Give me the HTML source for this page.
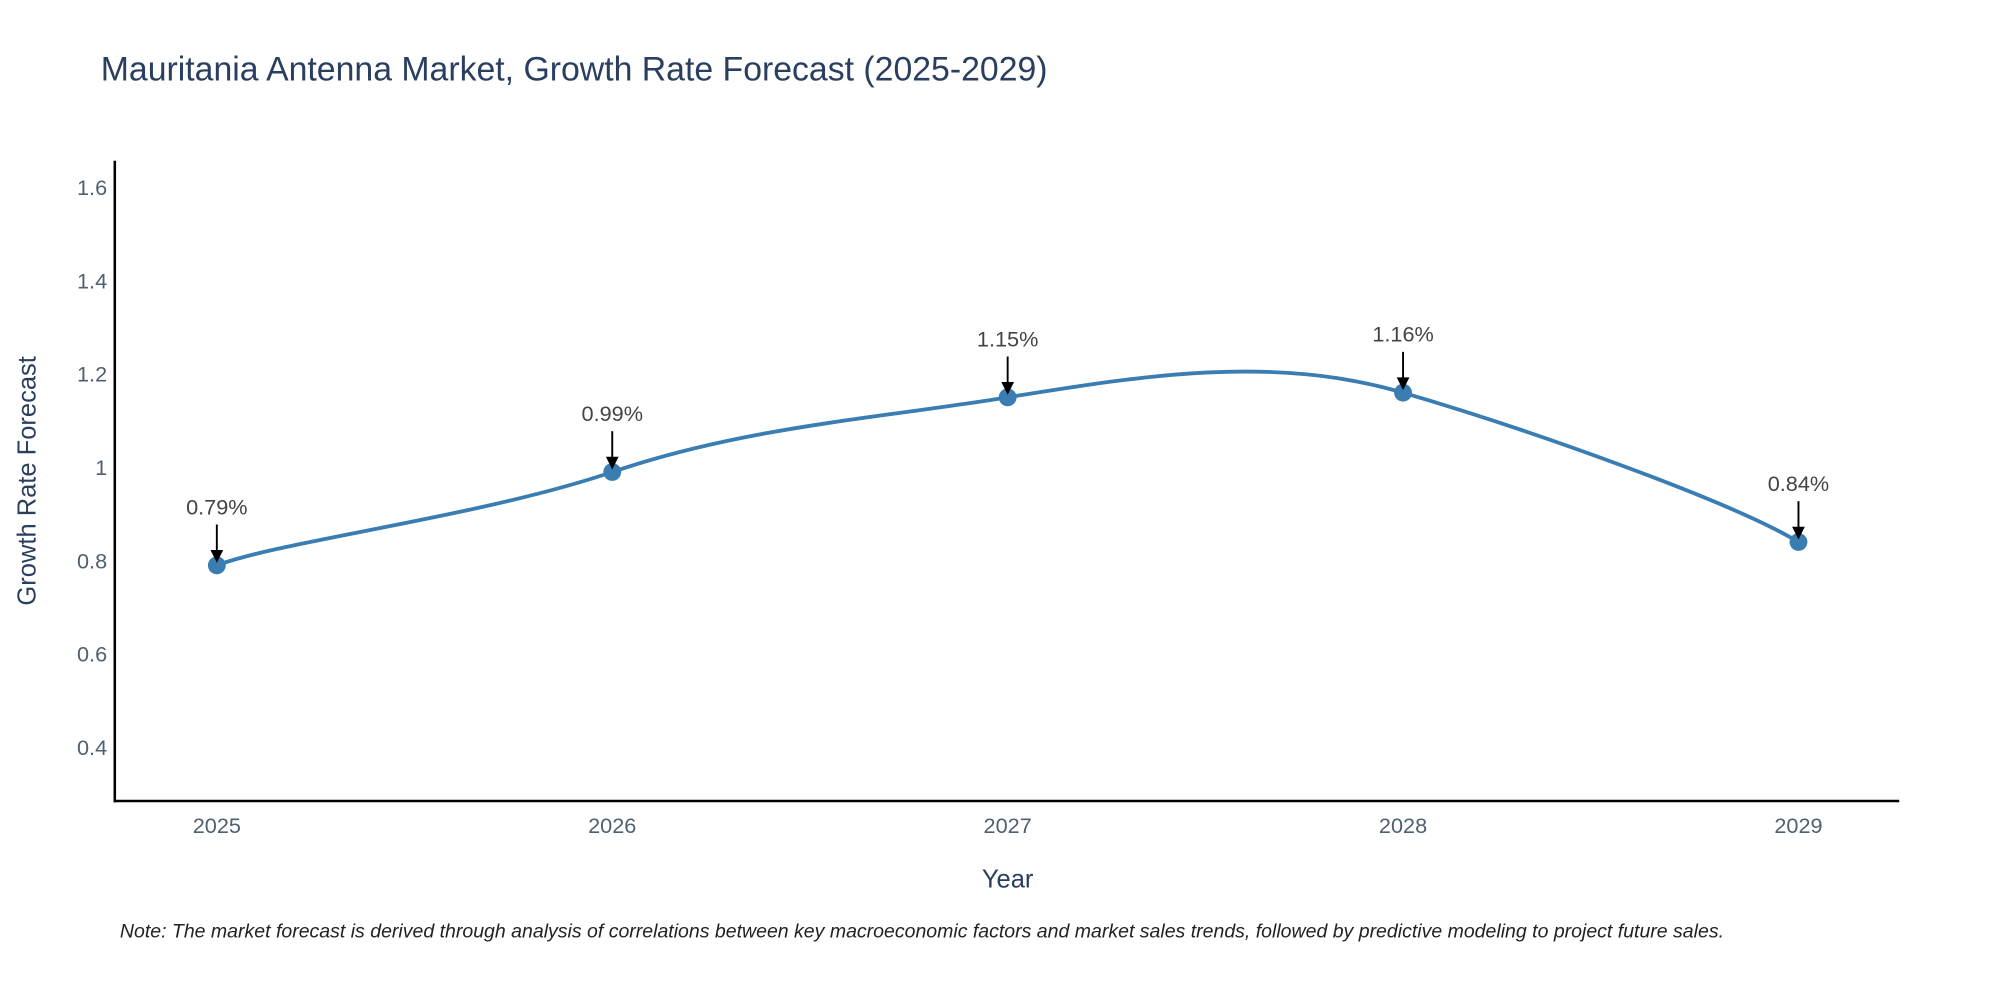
<!DOCTYPE html>
<html><head><meta charset="utf-8"><style>
html,body{margin:0;padding:0;background:#fff;}
svg{display:block;font-family:"Liberation Sans",sans-serif;}
</style></head><body>
<svg id="chart" width="2000" height="1000" viewBox="0 0 1568 784" xmlns="http://www.w3.org/2000/svg">
<text x="79" y="63" font-size="26.5" fill="#2a3f5f">Mauritania Antenna Market, Growth Rate Forecast (2025-2029)</text>
<g id="yticks"></g><g id="xticks"></g>
<line x1="90" y1="126" x2="90" y2="629" stroke="#000" stroke-width="2"/>
<line x1="89" y1="628" x2="1489" y2="628" stroke="#000" stroke-width="2"/>
<path id="line" fill="none" stroke="#3a7db3" stroke-width="3"/>
<g id="marks"></g>
<text transform="translate(28,377) rotate(-90)" text-anchor="middle" font-size="20" fill="#2a3f5f">Growth Rate Forecast</text>
<text x="790" y="696" text-anchor="middle" font-size="20" fill="#2a3f5f">Year</text>
<text x="94" y="735" font-size="15.3" font-style="italic" fill="#222">Note: The market forecast is derived through analysis of correlations between key macroeconomic factors and market sales trends, followed by predictive modeling to project future sales.</text>
</svg>
<script>
const years=["2025","2026","2027","2028","2029"];
const values=[0.79,0.99,1.15,1.16,0.84];
const labels=["0.79%","0.99%","1.15%","1.16%","0.84%"];
const yTicks=[0.4,0.6,0.8,1,1.2,1.4,1.6];
const yTickLabels=["0.4","0.6","0.8","1","1.2","1.4","1.6"];
const NS="http://www.w3.org/2000/svg";
const yMin=0.285,yMax=1.657,plotTop=126,plotBot=628;
const yS=v=>plotBot-(v-yMin)/(yMax-yMin)*(plotBot-plotTop);
const xS=i=>170+i*310;
function mk(t,a,p){const e=document.createElementNS(NS,t);for(const k in a)e.setAttribute(k,a[k]);p.appendChild(e);return e;}
const yt=document.getElementById('yticks');
yTicks.forEach((v,i)=>{const t=mk('text',{x:84,y:yS(v)+6,'text-anchor':'end','font-size':17,fill:'#506070'},yt);


t.textContent=yTickLabels[i];});
const xt=document.getElementById('xticks');
years.forEach((yr,i)=>{const t=mk('text',{x:xS(i),y:653,'text-anchor':'middle','font-size':17,fill:'#506070'},xt);


t.textContent=yr;});
const pts=values.map((v,i)=>[xS(i),yS(v)]);
let d=`M${pts[0][0]},${pts[0][1]}`;const s=0.8/3;
for(let i=0;i<pts.length-1;i++){const p0=pts[Math.max(0,i-1)],p1=pts[i],p2=pts[i+1],p3=pts[Math.min(pts.length-1,i+2)];
d+=` C${p1[0]+(p2[0]-p0[0])*s/1.6},${p1[1]+(p2[1]-p0[1])*s} ${p2[0]-(p3[0]-p1[0])*s/1.6},${p2[1]-(p3[1]-p1[1])*s} ${p2[0]},${p2[1]}`;}
document.getElementById('line').setAttribute('d',d);
const mg=document.getElementById('marks');
pts.forEach((p,i)=>{
const c=mk('circle',{cx:p[0],cy:p[1],r:7,fill:'#3a7db3'},mg);


const l=mk('line',{x1:p[0],y1:p[1]-32,x2:p[0],y2:p[1]-10,stroke:'#000','stroke-width':1.5},mg);


const h=mk('path',{d:`M${p[0]-5},${p[1]-12} L${p[0]+5},${p[1]-12} L${p[0]},${p[1]-2} Z`,fill:'#000'},mg);


const t=mk('text',{x:p[0],y:p[1]-40,'text-anchor':'middle','font-size':17,fill:'#444'},mg);


t.textContent=labels[i];});
</script>
</body></html>
